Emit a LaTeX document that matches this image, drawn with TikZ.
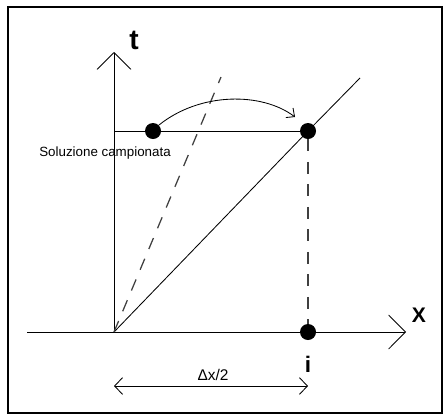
\documentclass[tikz,border=0pt]{standalone}
\usepackage{fontspec}
\setmainfont{Liberation Sans}
\usetikzlibrary{arrows.meta}

\tikzset{
  dot/.style={circle, fill=black, inner sep=0pt, minimum size=0.4cm},
  axis/.style={-{Straight Barb[length=0.42cm, width=0.85cm]}},
  hop/.style={-{Straight Barb[length=0.16cm, width=0.3cm]}},
  span/.style={{Straight Barb[length=0.2cm, width=0.42cm]}-{Straight Barb[length=0.2cm, width=0.42cm]}},
  guide/.style={dash pattern=on 8.5pt off 7.5pt, line width=0.9pt, black!75}
}

\begin{document}
\begin{tikzpicture}[x=0.025cm, y=-0.025cm, line width=0.6pt]
  \useasboundingbox (0,0) rectangle (444,415);
  \draw[line width=0.8pt] (8,7) rectangle (442,413);

  % axes
  \coordinate (O) at (114,332);
  \coordinate (tend) at (114,52);
  \coordinate (xstart) at (27,332);
  \coordinate (xend) at (406,332);
  \draw[axis] (O) -- (tend);
  \draw[axis] (xstart) -- (xend);
  \node[font=\fontsize{20}{22}\selectfont\bfseries] (t) at (134,40) {t};
  \node[font=\fontsize{15}{17}\selectfont\bfseries] (X) at (419,315) {X};

  % points
  \node[dot] (A) at (153,131) {};
  \node[dot] (B) at (308,131) {};
  \node[dot] (I) at (308,332) {};
  \coordinate (T) at (114,131);
  \coordinate (diag) at (360,78);
  \coordinate (dash) at (221,77);

  \draw (T) -- (B);
  \draw (O) -- (B.center) -- (diag);
  \draw[guide] (O) -- (dash);
  \draw[guide] (B) -- (I);
  \draw[hop] (A.north east) .. controls (200,92) and (262,92) .. (295,117);

  \node[font=\fontsize{9.5}{11}\selectfont] (sol) at (105,153) {Soluzione campionata};
  \node[font=\fontsize{16}{18}\selectfont\bfseries] (i) at (308,364) {i};

  % span
  \coordinate (L) at (114,386);
  \coordinate (R) at (308,386);
  \draw[span] (L) -- (R);
  \node[font=\fontsize{11}{13}\selectfont] (dx) at (213,375) {Δx/2};
\end{tikzpicture}
\end{document}
